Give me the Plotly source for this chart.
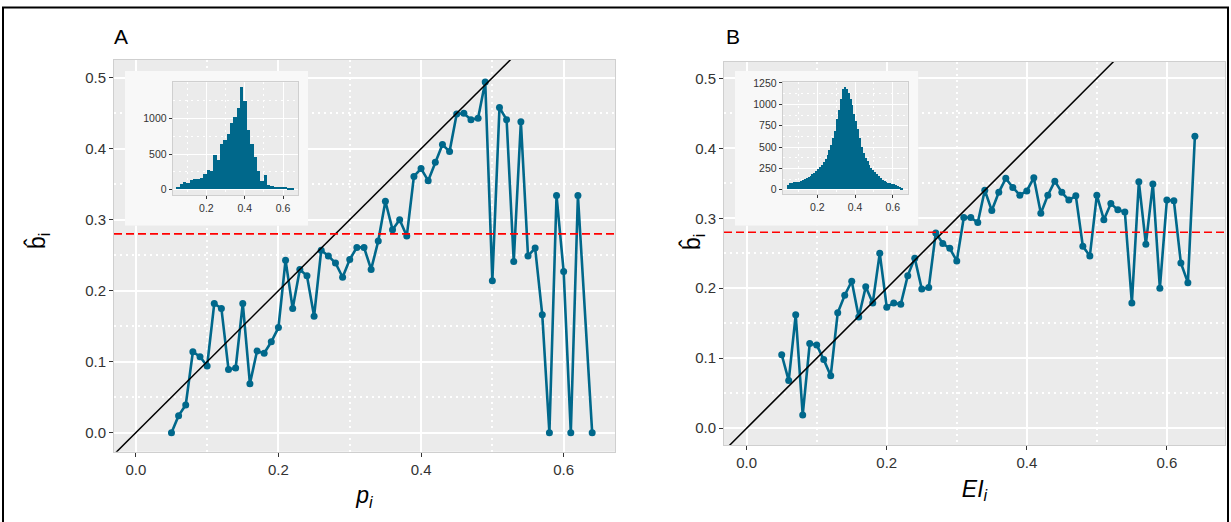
import plotly.graph_objects as go

W, H = 1231, 522

# ---------------- data ----------------
p_i = [0.05, 0.06, 0.07, 0.08, 0.09, 0.10, 0.11, 0.12, 0.13, 0.14, 0.15, 0.16, 0.17, 0.18, 0.19,
       0.20, 0.21, 0.22, 0.23, 0.24, 0.25, 0.26, 0.27, 0.28, 0.29, 0.30, 0.31, 0.32, 0.33, 0.34,
       0.35, 0.36, 0.37, 0.38, 0.39, 0.40, 0.41, 0.42, 0.43, 0.44, 0.45, 0.46, 0.47, 0.48, 0.49,
       0.50, 0.51, 0.52, 0.53, 0.54, 0.55, 0.56, 0.57, 0.58, 0.59, 0.60, 0.61, 0.62, 0.64]
b_hat_a = [0.000, 0.024, 0.039, 0.114, 0.107, 0.094, 0.182, 0.175, 0.089, 0.091, 0.182, 0.069, 0.115, 0.112, 0.128,
           0.148, 0.243, 0.175, 0.230, 0.221, 0.164, 0.257, 0.249, 0.239, 0.219, 0.244, 0.261, 0.261, 0.230, 0.270,
           0.326, 0.286, 0.300, 0.277, 0.361, 0.372, 0.355, 0.381, 0.406, 0.396, 0.449, 0.450, 0.441, 0.443, 0.494,
           0.214, 0.458, 0.441, 0.241, 0.438, 0.249, 0.260, 0.166, 0.000, 0.334, 0.227, 0.000, 0.334, 0.000]

EI_i = [0.05, 0.06, 0.07, 0.08, 0.09, 0.10, 0.11, 0.12, 0.13, 0.14, 0.15, 0.16, 0.17, 0.18, 0.19,
        0.20, 0.21, 0.22, 0.23, 0.24, 0.25, 0.26, 0.27, 0.28, 0.29, 0.30, 0.31, 0.32, 0.33, 0.34,
        0.35, 0.36, 0.37, 0.38, 0.39, 0.40, 0.41, 0.42, 0.43, 0.44, 0.45, 0.46, 0.47, 0.48, 0.49,
        0.50, 0.51, 0.52, 0.53, 0.54, 0.55, 0.56, 0.57, 0.58, 0.59, 0.60, 0.61, 0.62, 0.63, 0.64]
b_hat_b = [0.105, 0.068, 0.162, 0.019, 0.121, 0.119, 0.098, 0.075, 0.165, 0.190, 0.210, 0.159, 0.202, 0.179, 0.250,
           0.173, 0.179, 0.177, 0.218, 0.243, 0.199, 0.201, 0.279, 0.264, 0.257, 0.239, 0.301, 0.301, 0.294, 0.340,
           0.311, 0.337, 0.357, 0.344, 0.333, 0.339, 0.358, 0.307, 0.333, 0.353, 0.337, 0.326, 0.332, 0.260, 0.246,
           0.333, 0.298, 0.321, 0.312, 0.309, 0.179, 0.352, 0.263, 0.349, 0.200, 0.326, 0.325, 0.236, 0.208, 0.417]

threshold = 0.28
identity_line = [-1.0, 1.0]

# inset histograms (bin left edge, bin width, counts)
hist_a_start = 0.042
hist_a_width = 0.0175
hist_a_counts = [35, 80, 110, 85, 130, 140, 150, 155, 215, 270, 260, 480, 410, 640, 700, 780, 930, 1020,
                 1140, 1440, 1250, 830, 640, 450, 260, 120, 200, 60, 45, 40, 35, 40, 30, 25, 20]

hist_b_start = 0.040
hist_b_width = 0.010
hist_b_counts = [50, 75, 80, 82, 83, 85, 88, 95, 105, 120, 135, 145, 160, 180, 195, 215, 235, 260, 290, 320,
                 360, 405, 460, 525, 600, 690, 820, 930, 1060, 1180, 1205, 1180, 1130, 1060, 990, 880, 800, 710,
                 600, 500, 430, 370, 330, 290, 255, 225, 200, 175, 155, 135, 115, 100, 90, 80, 72, 65, 58, 50,
                 40, 30, 18]

main_ticks_x = [0.0, 0.2, 0.4, 0.6]
main_ticks_y = [0.0, 0.1, 0.2, 0.3, 0.4, 0.5]
inset_ticks_x = [0.2, 0.4, 0.6]
inset_a_ticks_y = [0, 500, 1000]
inset_b_ticks_y = [0, 250, 500, 750, 1000, 1250]

# ---------------- style ----------------
TEAL = "#00688B"
PANEL = "#EBEBEB"
FONT = "Liberation Sans, Arial, sans-serif"
TICKC = "#333333"
DOTS = "2px,4px"


def px_x(a, b):
    return [a / W, b / W]


def px_y(top, bottom):
    return [1 - bottom / H, 1 - top / H]


fig = go.Figure()

# main panel A
fig.add_trace(go.Scatter(x=p_i, y=b_hat_a, mode="lines+markers",
                         line=dict(color=TEAL, width=2.6), marker=dict(color=TEAL, size=7),
                         xaxis="x", yaxis="y", showlegend=False))
fig.add_trace(go.Scatter(x=identity_line, y=identity_line, mode="lines",
                         line=dict(color="black", width=1.5), xaxis="x", yaxis="y", showlegend=False))
# main panel B
fig.add_trace(go.Scatter(x=EI_i, y=b_hat_b, mode="lines+markers",
                         line=dict(color=TEAL, width=2.6), marker=dict(color=TEAL, size=7),
                         xaxis="x2", yaxis="y2", showlegend=False))
fig.add_trace(go.Scatter(x=identity_line, y=identity_line, mode="lines",
                         line=dict(color="black", width=1.5), xaxis="x2", yaxis="y2", showlegend=False))
# placeholder traces for the inset boxes
fig.add_trace(go.Scatter(x=[None], y=[None], xaxis="x3", yaxis="y3", showlegend=False, hoverinfo="skip"))
fig.add_trace(go.Scatter(x=[None], y=[None], xaxis="x4", yaxis="y4", showlegend=False, hoverinfo="skip"))
# inset histograms
centers_a = [hist_a_start + hist_a_width * (k + 0.5) for k in range(len(hist_a_counts))]
centers_b = [hist_b_start + hist_b_width * (k + 0.5) for k in range(len(hist_b_counts))]
fig.add_trace(go.Bar(x=centers_a, y=hist_a_counts, width=hist_a_width, marker=dict(color=TEAL, line=dict(width=0)),
                     xaxis="x5", yaxis="y5", showlegend=False))
fig.add_trace(go.Bar(x=centers_b, y=hist_b_counts, width=hist_b_width, marker=dict(color=TEAL, line=dict(width=0)),
                     xaxis="x6", yaxis="y6", showlegend=False))


def main_axes(domx, domy, rx, ry, anchor_x, anchor_y):
    xa = dict(domain=domx, range=rx, anchor=anchor_y, tickvals=main_ticks_x, tickformat=".1f",
              showgrid=True, gridcolor="white", gridwidth=1.8, zeroline=False, automargin=False,
              minor=dict(dtick=0.1, tick0=0, showgrid=True, gridcolor="white", gridwidth=1.6, griddash=DOTS),
              ticks="outside", ticklen=4, tickcolor="#333333", tickwidth=1,
              showline=True, mirror=True, linecolor="#CFCFCF", linewidth=1,
              tickfont=dict(family=FONT, size=15, color=TICKC))
    ya = dict(domain=domy, range=ry, anchor=anchor_x, tickvals=main_ticks_y, tickformat=".1f",
              showgrid=True, gridcolor="white", gridwidth=1.8, zeroline=False, automargin=False,
              minor=dict(dtick=0.1, tick0=0.05, showgrid=True, gridcolor="white", gridwidth=1.6, griddash=DOTS),
              ticks="outside", ticklen=4, tickcolor="#333333", tickwidth=1,
              showline=True, mirror=True, linecolor="#CFCFCF", linewidth=1,
              tickfont=dict(family=FONT, size=15, color=TICKC))
    return xa, ya


def inset_axes(domx, domy, rx, ry, ytv, anchor_x, anchor_y):
    xa = dict(domain=domx, range=rx, anchor=anchor_y, tickvals=inset_ticks_x, tickformat=".1f",
              showgrid=True, gridcolor="white", gridwidth=1.2, zeroline=False, automargin=False,
              minor=dict(dtick=0.2, tick0=0.1, showgrid=True, gridcolor="white", gridwidth=1.1, griddash=DOTS),
              ticks="outside", ticklen=3, tickcolor="#333333", tickwidth=1,
              showline=True, mirror=True, linecolor="#CFCFCF", linewidth=1,
              tickfont=dict(family=FONT, size=10.5, color="#333333"))
    ya = dict(domain=domy, range=ry, anchor=anchor_x, tickvals=ytv, automargin=False,
              showgrid=True, gridcolor="white", gridwidth=1.2, zeroline=False,
              minor=dict(dtick=(ytv[1] - ytv[0]), tick0=(ytv[1] - ytv[0]) / 2, showgrid=True,
                         gridcolor="white", gridwidth=1.1, griddash=DOTS),
              ticks="outside", ticklen=3, tickcolor="#333333", tickwidth=1,
              showline=True, mirror=True, linecolor="#CFCFCF", linewidth=1,
              tickfont=dict(family=FONT, size=10.5, color="#333333"))
    return xa, ya


xa1, ya1 = main_axes(px_x(114, 615), px_y(60, 451.7), [-0.0306, 0.672], [-0.0268, 0.525], "x", "y")
xa2, ya2 = main_axes(px_x(724, 1225), px_y(61.7, 445), [-0.0324, 0.683], [-0.024, 0.5237], "x2", "y2")
xa1["title"] = dict(text="<i>p<sub>i</sub></i>", font=dict(family=FONT, size=23, color="black"), standoff=10)
xa2["title"] = dict(text="<i>EI<sub>i</sub></i>", font=dict(family=FONT, size=23, color="black"), standoff=10)

box = dict(range=[0, 1], visible=False, fixedrange=True, automargin=False)
xa3 = dict(box, domain=px_x(125, 308), anchor="y3")
ya3 = dict(box, domain=px_y(71, 225.7), anchor="x3")
xa4 = dict(box, domain=px_x(735, 918.3), anchor="y4")
ya4 = dict(box, domain=px_y(71, 225.7), anchor="x4")

xa5, ya5 = inset_axes(px_x(172.7, 298), px_y(82.3, 195), [0.0245, 0.678], [-74, 1510], inset_a_ticks_y, "x5", "y5")
xa6, ya6 = inset_axes(px_x(782.7, 907.7), px_y(82.3, 194), [0.0164, 0.679], [-50, 1258], inset_b_ticks_y, "x6", "y6")

shapes = [
    dict(type="rect", xref="x3", yref="y3", x0=0, x1=1, y0=0, y1=1, layer="below",
         fillcolor="#F8F8F8", line=dict(width=0)),
    dict(type="rect", xref="x4", yref="y4", x0=0, x1=1, y0=0, y1=1, layer="below",
         fillcolor="#F8F8F8", line=dict(width=0)),
    dict(type="line", xref="x domain", yref="y", x0=0, x1=1, y0=threshold, y1=threshold,
         line=dict(color="red", width=1.6, dash="8px,4px")),
    dict(type="line", xref="x2 domain", yref="y2", x0=0, x1=1, y0=threshold, y1=threshold,
         line=dict(color="red", width=1.6, dash="8px,4px")),
    dict(type="rect", xref="paper", yref="paper", x0=3 / W, x1=1228 / W, y0=-0.05, y1=1 - 7.5 / H,
         line=dict(color="black", width=2), fillcolor="rgba(0,0,0,0)", layer="above"),
]

annotations = [
    dict(text="A", x=121 / W, y=1 - 36 / H, xref="paper", yref="paper", showarrow=False,
         font=dict(family=FONT, size=21, color="black"), xanchor="center", yanchor="middle"),
    dict(text="B", x=733 / W, y=1 - 36 / H, xref="paper", yref="paper", showarrow=False,
         font=dict(family=FONT, size=21, color="black"), xanchor="center", yanchor="middle"),
    dict(text="b̂<sub>i</sub>", x=38 / W, y=1 - 241 / H, xref="paper", yref="paper", showarrow=False,
         textangle=-90, font=dict(family=FONT, size=23, color="black"), xanchor="center", yanchor="middle"),
    dict(text="b̂<sub>i</sub>", x=693 / W, y=1 - 242 / H, xref="paper", yref="paper", showarrow=False,
         textangle=-90, font=dict(family=FONT, size=23, color="black"), xanchor="center", yanchor="middle"),
]

fig.update_layout(
    width=W, height=H, margin=dict(l=0, r=0, t=0, b=0, pad=0, autoexpand=False),
    paper_bgcolor="white", plot_bgcolor=PANEL, bargap=0,
    font=dict(family=FONT),
    xaxis=xa1, yaxis=ya1, xaxis2=xa2, yaxis2=ya2,
    xaxis3=xa3, yaxis3=ya3, xaxis4=xa4, yaxis4=ya4,
    xaxis5=xa5, yaxis5=ya5, xaxis6=xa6, yaxis6=ya6,
    shapes=shapes, annotations=annotations,
)

fig.write_html("out.html", config={"responsive": False, "displayModeBar": False},
               post_script="document.body.style.margin='0px';document.body.style.overflow='hidden';")
